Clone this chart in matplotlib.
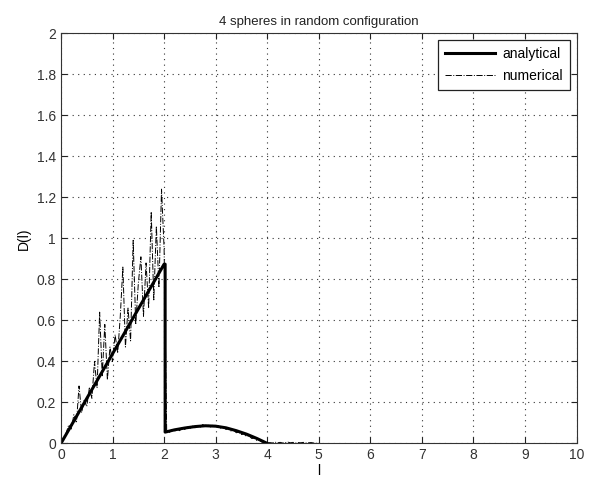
import numpy as np
import matplotlib
matplotlib.use('Agg')
import matplotlib.pyplot as plt
from matplotlib.ticker import FuncFormatter

plt.rcParams['font.family'] = ['Liberation Sans', 'DejaVu Sans']

# analytical curve
l_an = [0, 0.5, 1.0, 1.5, 2.0, 2.02, 2.02, 2.2, 2.4, 2.6, 2.8, 3.0, 3.2, 3.4, 3.6, 3.8, 4.0]
D_an = [0, 0.219, 0.437, 0.656, 0.874, 0.874, 0.055, 0.066, 0.075, 0.082, 0.086, 0.084,
        0.076, 0.062, 0.045, 0.024, 0.0]

# numerical curve, sampled every 0.05 from 0 to 5
l_num = np.round(np.arange(0, 5.001, 0.05), 2)
D_num = [0.0, 0.03, 0.05, 0.09, 0.07, 0.14, 0.10, 0.28, 0.15, 0.21,
         0.18, 0.27, 0.22, 0.40, 0.27, 0.64, 0.33, 0.58, 0.31, 0.47,
         0.40, 0.53, 0.44, 0.62, 0.86, 0.47, 0.66, 0.50, 0.99, 0.58,
         0.78, 0.91, 0.62, 0.88, 0.66, 1.13, 0.70, 1.06, 0.76, 1.24,
         0.95,
         0.060, 0.052, 0.068, 0.058, 0.072, 0.062, 0.076, 0.068, 0.080, 0.072,
         0.084, 0.076, 0.087, 0.079, 0.092, 0.082, 0.090, 0.080, 0.089, 0.078,
         0.086, 0.074, 0.080, 0.068, 0.073, 0.060, 0.064, 0.052, 0.055, 0.043,
         0.046, 0.034, 0.036, 0.024, 0.026, 0.014, 0.016, 0.006, 0.007, 0.0,
         0.004, 0.002, 0.006, 0.003, 0.005, 0.002, 0.004, 0.006, 0.003, 0.005,
         0.002, 0.004, 0.003, 0.005, 0.002, 0.003, 0.004, 0.002, 0.001, 0.0]

x_ticks = np.arange(0, 11, 1)
y_ticks = np.round(np.arange(0, 2.01, 0.2), 1)

fig = plt.figure(figsize=(5.92, 4.83), dpi=100)
ax = fig.add_axes([0.103, 0.082, 0.871, 0.849])

ax.plot(l_an, D_an, color='k', lw=2.2, label='analytical')
ax.plot(l_num, D_num, color='k', lw=0.7, ls='-.', label='numerical')

ax.set_xlim(0, 10)
ax.set_ylim(0, 2)
ax.set_xticks(x_ticks)
ax.set_yticks(y_ticks)
ax.yaxis.set_major_formatter(FuncFormatter(lambda v, p: '%g' % v))
ax.tick_params(direction='in', length=4, labelsize=10, top=True, right=True,
               colors='#222222', labelcolor='#333333')
for s in ax.spines.values():
    s.set_color('#333333')
ax.grid(True, color='#333333', ls=(0, (1, 4)), lw=0.8)

ax.set_title('4 spheres in random configuration', fontsize=9.5, color='#222222')
ax.set_xlabel('l', fontsize=10, labelpad=1)
ax.set_ylabel('D(l)', fontsize=10)

leg = ax.legend(loc='upper right', fontsize=10, fancybox=False, framealpha=1,
                edgecolor='#222222', handlelength=3.6, handletextpad=0.5,
                labelspacing=0.55, borderpad=0.5, borderaxespad=0.5)
leg.get_frame().set_linewidth(0.9)

fig.savefig('out.png', dpi=100)
